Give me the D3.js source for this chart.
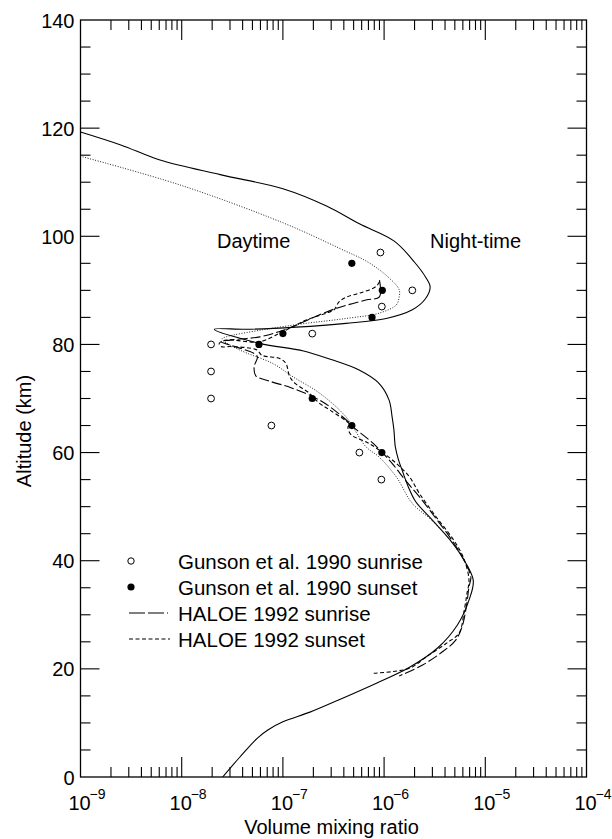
<!DOCTYPE html>
<html><head><meta charset="utf-8">
<script src="https://cdn.jsdelivr.net/npm/d3@7"></script>
<style>
html,body{margin:0;padding:0;background:#fff;}
svg text{font-family:"Liberation Sans", Arial, Helvetica, sans-serif; fill:#000;}
</style></head><body>
<svg id="chart" width="612" height="839"></svg>
<script>
// ---------------- data ----------------
const xTickExponents = [-9, -8, -7, -6, -5, -4];
const yTickValues = [0, 20, 40, 60, 80, 100, 120, 140];
const xTitle = "Volume mixing ratio";
const yTitle = "Altitude (km)";
const regionLabels = ["Daytime", "Night-time"];
const legendLabels = ["Gunson et al. 1990 sunrise", "Gunson et al. 1990 sunset", "HALOE 1992 sunrise", "HALOE 1992 sunset"];

// model, night-time (solid)  [altitude km, vmr]
const nightModel = [
  [119.3,1.0e-9],[116.9,2.5e-9],[114.1,6.1e-9],[111.4,2.4e-8],[108.8,1.0e-7],[105.6,2.7e-7],
  [102.3,5.7e-7],[99.1,1.26e-6],[95.2,2.0e-6],[92.3,2.6e-6],[90.6,2.85e-6],[88.4,2.55e-6],
  [86.4,1.9e-6],[84.8,1.05e-6],[83.9,4.2e-7],[83.2,1.35e-7],[82.8,4.4e-8],[82.8,2.1e-8],
  [80.2,5.9e-8],[78.8,1.6e-7],[77.2,3.0e-7],[75.3,5.6e-7],[72.8,8.9e-7],[69.7,1.12e-6],
  [66.6,1.2e-6],[64.2,1.25e-6],[61.1,1.29e-6],[58.6,1.39e-6],[56.7,1.51e-6],[53.6,1.74e-6],
  [51.0,2.04e-6],[47.5,3.0e-6],[43.8,4.5e-6],[40.7,5.9e-6],[36.4,7.6e-6],[32.7,6.9e-6],
  [28.1,5.3e-6],[23.9,3.4e-6],[20.2,1.75e-6],[17.4,8.5e-7],[14.2,3.5e-7],[12.0,1.85e-7],
  [10.2,1.0e-7],[8.7,7.1e-8],[7.2,5.6e-8],[3.7,3.76e-8],[0,2.54e-8]
];
// model, daytime (dotted)
const dayModel = [
  [114.7,1.05e-9],[109.5,9.6e-9],[102.5,1.0e-7],[97.8,3.6e-7],[95.1,7.1e-7],[92.3,1.12e-6],
  [90.1,1.41e-6],[88.5,1.4e-6],[87.3,1.32e-6],[85.8,9.0e-7],[84.8,4.2e-7],
  [83.9,1.7e-7],[82.7,6.3e-8],[81.4,2.75e-8],[81.0,2.5e-8],[79.6,3.2e-8],[78.4,4.4e-8],
  [76.5,7.9e-8],[74.0,1.26e-7],[71.0,2.3e-7],[66.6,4.2e-7],[61.1,6.6e-7],[59.2,8.9e-7],
  [55.5,1.32e-6],[50.6,1.9e-6],[47.5,2.95e-6],[43.8,4.5e-6],[40.7,5.9e-6]
];
// HALOE 1992 sunrise (long dash)
const haloeSunrise = [
  [91.9,9.0e-7],[88.8,9.0e-7],[88.2,6.6e-7],[86.7,3.4e-7],[85.0,2.0e-7],[83.3,1.26e-7],
  [82.4,9.3e-8],[81.4,5.9e-8],[80.8,3.0e-8],[80.5,2.45e-8],[79.5,3.5e-8],[78.4,5.1e-8],
  [77.7,5.6e-8],[75.9,5.2e-8],[74.2,5.4e-8],[73.2,7.4e-8],[72.0,1.2e-7],[70.3,2.0e-7],
  [68.5,2.9e-7],[65.4,4.6e-7],[64.8,4.9e-7],[61.7,7.8e-7],[58.0,1.2e-6],[54.9,1.62e-6],
  [51.8,2.24e-6],[48.0,3.2e-6],[44.0,4.6e-6],[40.5,6.0e-6],[37.0,7.2e-6],[35.2,6.9e-6],
  [31.5,6.5e-6],[27.8,5.9e-6],[25.3,5.1e-6],[23.2,3.8e-6],[20.7,2.4e-6],[18.7,1.41e-6]
];
// HALOE 1992 sunset (short dash)
const haloeSunset = [
  [91.6,9.0e-7],[90.7,8.3e-7],[89.5,5.75e-7],[88.8,4.3e-7],[87.9,3.6e-7],[86.4,3.2e-7],
  [85.8,2.7e-7],[84.5,1.7e-7],[83.0,1.17e-7],[82.1,9.3e-8],[80.5,5.9e-8],[80.8,2.75e-8],
  [80.2,2.35e-8],[79.6,2.45e-8],[79.6,3.1e-8],[79.0,5.5e-8],[78.0,6.2e-8],[77.4,9.3e-8],
  [76.5,1.07e-7],[74.0,1.17e-7],[72.8,1.32e-7],[71.0,1.82e-7],[69.1,2.3e-7],[67.9,2.9e-7],
  [65.1,4.6e-7],[64.8,4.4e-7],[63.3,4.7e-7],[62.0,6.6e-7],[60.5,8.9e-7],[58.0,1.32e-6],
  [55.5,1.78e-6],[52.4,2.24e-6],[48.0,3.3e-6],[44.0,4.8e-6],[40.5,6.1e-6],[36.4,6.9e-6],
  [34.0,6.6e-6],[30.9,6.2e-6],[26.6,5.5e-6],[24.7,4.1e-6],[22.2,2.6e-6],[20.1,1.78e-6],
  [19.2,7.9e-7]
];
// Gunson et al. 1990
const gunsonSunrise = [[97,9.2e-7],[90,1.9e-6],[87,9.5e-7],[82,1.95e-7],[80,1.95e-8],[75,1.95e-8],
  [70,1.95e-8],[65,7.7e-8],[60,5.7e-7],[55,9.4e-7]];
const gunsonSunset = [[95,4.8e-7],[90,9.6e-7],[85,7.6e-7],[82,1.0e-7],[80,5.8e-8],[70,1.95e-7],
  [65,4.8e-7],[60,9.5e-7]];

// ---------------- drawing ----------------
const svg = d3.select("#chart");
const x = d3.scaleLog().domain([1e-9, 1e-4]).range([80.5, 586.5]);
const y = d3.scaleLinear().domain([0, 140]).range([777, 20]);
const X0 = x.range()[0], X1 = x.range()[1], Y0 = y.range()[0], Y1 = y.range()[1];

svg.append("rect").attr("width", 612).attr("height", 839).attr("fill", "#fff");

svg.append("clipPath").attr("id", "clip").append("rect")
  .attr("x", X0).attr("y", Y1).attr("width", X1 - X0).attr("height", Y0 - Y1);

// ticks
const tg = svg.append("g").attr("stroke", "#000").attr("stroke-width", 1.1);
x.ticks().forEach(v => {
  const e = Math.log10(v);
  const major = Math.abs(e - Math.round(e)) < 1e-9;
  const len = major ? 20 : 10;
  const px = x(v);
  if (px <= X0 + 0.5 || px >= X1 - 0.5) return;
  tg.append("line").attr("x1", px).attr("x2", px).attr("y1", Y0).attr("y2", Y0 - len);
  tg.append("line").attr("x1", px).attr("x2", px).attr("y1", Y1).attr("y2", Y1 + len);
});
y.ticks(28).forEach(v => {
  const major = v % 20 === 0;
  const len = major ? 19 : 10;
  const py = y(v);
  if (py >= Y0 - 0.5 || py <= Y1 + 0.5) return;
  tg.append("line").attr("x1", X0).attr("x2", X0 + len).attr("y1", py).attr("y2", py);
  tg.append("line").attr("x1", X1).attr("x2", X1 - len).attr("y1", py).attr("y2", py);
});

// frame
svg.append("rect").attr("x", X0).attr("y", Y1).attr("width", X1 - X0).attr("height", Y0 - Y1)
  .attr("fill", "none").attr("stroke", "#000").attr("stroke-width", 1.3);

// tick labels
yTickValues.forEach(v => {
  svg.append("text").attr("x", X0 - 6).attr("y", y(v) + 7.5)
    .attr("text-anchor", "end").attr("font-size", 20).text(v);
});
xTickExponents.forEach(e => {
  const px = x(Math.pow(10, e));
  svg.append("text").attr("x", px - 1).attr("y", 810).attr("text-anchor", "middle")
    .attr("font-size", 20).text("10");
  svg.append("text").attr("x", px + 9).attr("y", 799).attr("text-anchor", "start")
    .attr("font-size", 14).text("\u2212" + Math.abs(e));
});

// axis titles
svg.append("text").attr("x", (X0 + X1) / 2 - 2).attr("y", 834).attr("text-anchor", "middle")
  .attr("font-size", 20).text(xTitle);
svg.append("text").attr("transform", "translate(31,431) rotate(-90)").attr("text-anchor", "middle")
  .attr("font-size", 20).text(yTitle);

// lines
const line = d3.line().x(d => x(d[1])).y(d => y(d[0])).curve(d3.curveCatmullRom.alpha(0.5));
const lg = svg.append("g").attr("clip-path", "url(#clip)").attr("fill", "none");
lg.append("path").datum(nightModel).attr("d", line).attr("stroke", "#000").attr("stroke-width", 1.1);
lg.append("path").datum(dayModel).attr("d", line).attr("stroke", "#222").attr("stroke-width", 1)
  .attr("stroke-dasharray", "1,1.6");
lg.append("path").datum(haloeSunrise).attr("d", line).attr("stroke", "#000").attr("stroke-width", 1.1)
  .attr("stroke-dasharray", "10,3");
lg.append("path").datum(haloeSunset).attr("d", line).attr("stroke", "#000").attr("stroke-width", 1.1)
  .attr("stroke-dasharray", "4,2.5");

// points
const pg = svg.append("g");
pg.selectAll("circle.open").data(gunsonSunrise).join("circle").attr("class", "open")
  .attr("cx", d => x(d[1])).attr("cy", d => y(d[0])).attr("r", 3.4)
  .attr("fill", "#fff").attr("stroke", "#000").attr("stroke-width", 1);
pg.selectAll("circle.filled").data(gunsonSunset).join("circle").attr("class", "filled")
  .attr("cx", d => x(d[1])).attr("cy", d => y(d[0])).attr("r", 3.6).attr("fill", "#000");

// region labels
svg.append("text").attr("x", 217).attr("y", 248).attr("font-size", 20).text(regionLabels[0]);
svg.append("text").attr("x", 430).attr("y", 248).attr("font-size", 20).text(regionLabels[1]);

// legend
const legBase = [569, 595, 621, 647];
const symX = 131, textX = 178;
const leg = svg.append("g");
leg.append("circle").attr("cx", symX).attr("cy", legBase[0] - 8).attr("r", 3.2)
  .attr("fill", "#fff").attr("stroke", "#000").attr("stroke-width", 1);
leg.append("circle").attr("cx", symX).attr("cy", legBase[1] - 8).attr("r", 3.6).attr("fill", "#000");
leg.append("line").attr("x1", 129).attr("x2", 170).attr("y1", legBase[2] - 8).attr("y2", legBase[2] - 8)
  .attr("stroke", "#000").attr("stroke-width", 1.1).attr("stroke-dasharray", "16,3,16,3,1,3");
leg.append("line").attr("x1", 129).attr("x2", 170).attr("y1", legBase[3] - 8).attr("y2", legBase[3] - 8)
  .attr("stroke", "#000").attr("stroke-width", 1.1).attr("stroke-dasharray", "4,2.5");
legendLabels.forEach((t, i) => {
  leg.append("text").attr("x", textX).attr("y", legBase[i]).attr("font-size", 20.5).text(t);
});
</script>
</body></html>
